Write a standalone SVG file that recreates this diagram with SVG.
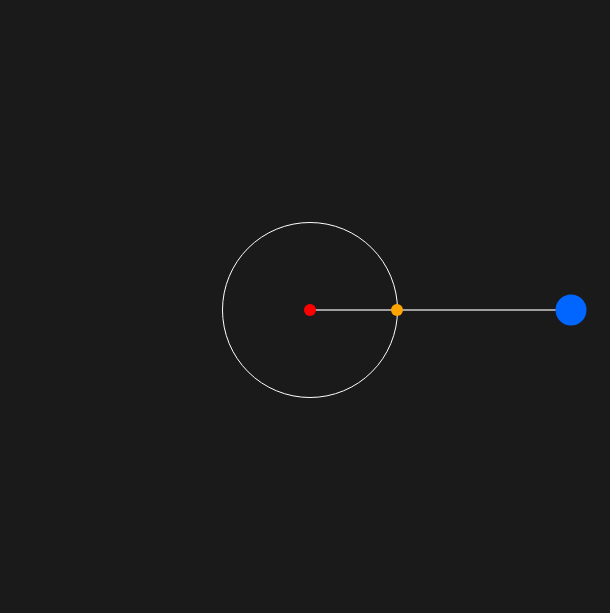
<svg xmlns="http://www.w3.org/2000/svg" width="610" height="613" viewBox="0 0 610 613">
<style>
.orbit{fill:none;stroke:#ffffff;stroke-width:1}
.arm{stroke:#cccccc;stroke-width:1.5}
</style>
<rect x="0" y="0" width="610" height="613" fill="#1a1a1a"/>
<g id="orbit"><circle class="orbit" cx="310" cy="310" r="87.5"/></g>
<g id="connectors"><line class="arm" x1="310" y1="310" x2="571" y2="310"/></g>
<g id="center"><circle cx="310" cy="310" r="6" fill="#ff0000"/></g>
<g id="orange"><circle cx="397" cy="310" r="6" fill="#ffa500"/></g>
<g id="blue"><circle cx="571" cy="310" r="15.5" fill="#0066ff"/></g>
</svg>
